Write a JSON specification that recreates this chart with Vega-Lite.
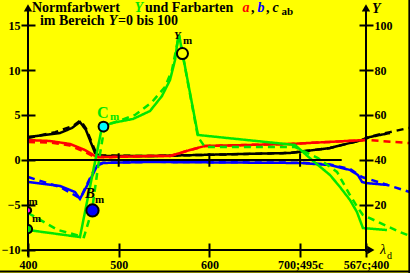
{
"$schema":"https://vega.github.io/schema/vega-lite/v6.json",
"width":382,"height":273,
"autosize":{"type":"none"},
"padding":{"left":28,"top":0,"right":0,"bottom":0},
"background":"#ffff00",
"view":{"stroke":null},
"config":{"axis":{"domain":false,"grid":false,"tickColor":"black","tickWidth":2,"labelFont":"Liberation Serif","labelFontWeight":"bold","labelFontSize":12,"labelColor":"black","title":null,"labelOverlap":false,"labelFlush":false,"labelBound":false}},
"resolve":{"axis":{"x":"independent","y":"independent"}},
"datasets":{
"cab":[
{"k":"s","x":400,"y":2.56},{"k":"s","x":418.7,"y":2.78},{"k":"s","x":435.3,"y":3.0},{"k":"s","x":448.5,"y":3.56},{"k":"s","x":457.3,"y":4.22},{"k":"s","x":463.9,"y":3.33},{"k":"s","x":473.9,"y":0.78},{"k":"s","x":479.4,"y":0.44},{"k":"s","x":534.5,"y":0.44},{"k":"s","x":589.6,"y":0.56},{"k":"s","x":688.9,"y":0.78},{"k":"s","x":733,"y":1.33},{"k":"s","x":755,"y":1.89},{"k":"s","x":768.3,"y":2.22},{"k":"s","x":777.1,"y":2.56},{"k":"s","x":799.1,"y":3.0},
{"k":"d","x":400,"y":2.44},{"k":"d","x":430,"y":3.1},{"k":"d","x":450,"y":3.8},{"k":"d","x":457.8,"y":4.4},{"k":"d","x":464,"y":3.5},{"k":"d","x":474.5,"y":0.9},{"k":"d","x":480,"y":0.5},{"k":"d","x":534.5,"y":0.44},{"k":"d","x":589.6,"y":0.56},{"k":"d","x":688.9,"y":0.78},{"k":"d","x":733,"y":1.33},{"k":"d","x":755,"y":1.89},{"k":"d","x":768.3,"y":2.22},{"k":"d","x":777.1,"y":2.6},{"k":"d","x":799.1,"y":3.1},{"k":"d","x":820,"y":3.56}
],
"a":[
{"k":"s","x":400,"y":2.22},{"k":"s","x":424.3,"y":2.11},{"k":"s","x":446.3,"y":1.78},{"k":"s","x":462.8,"y":1.11},{"k":"s","x":473.9,"y":0.44},{"k":"s","x":484.9,"y":0.33},{"k":"s","x":534.5,"y":0.44},{"k":"s","x":556.6,"y":0.44},{"k":"s","x":578.6,"y":1.11},{"k":"s","x":595.1,"y":1.56},{"k":"s","x":688.9,"y":1.78},{"k":"s","x":771.6,"y":2.22},
{"k":"d","x":400,"y":2.0},{"k":"d","x":424.3,"y":1.95},{"k":"d","x":446.3,"y":1.6},{"k":"d","x":462.8,"y":0.9},{"k":"d","x":473.9,"y":0.3},{"k":"d","x":484.9,"y":0.3},{"k":"d","x":534.5,"y":0.44},{"k":"d","x":556.6,"y":0.44},{"k":"d","x":578.6,"y":1.11},{"k":"d","x":595.1,"y":1.56},{"k":"d","x":688.9,"y":1.78},{"k":"d","x":773.7,"y":2.22},{"k":"d","x":820.1,"y":1.89}
],
"b":[
{"k":"s","x":400,"y":-2.44},{"k":"s","x":435.3,"y":-2.89},{"k":"s","x":451.8,"y":-3.56},{"k":"s","x":457.3,"y":-4.33},{"k":"s","x":468.4,"y":-2.22},{"k":"s","x":476.1,"y":-0.67},{"k":"s","x":482.7,"y":-0.33},{"k":"s","x":534.5,"y":-0.22},{"k":"s","x":699.9,"y":-0.33},{"k":"s","x":733,"y":-0.56},{"k":"s","x":755,"y":-1.11},{"k":"s","x":763.8,"y":-1.67},{"k":"s","x":768.3,"y":-2.44},{"k":"s","x":772.7,"y":-2.56},{"k":"s","x":796.9,"y":-2.78},
{"k":"d","x":400,"y":-1.89},{"k":"d","x":435.3,"y":-3.0},{"k":"d","x":455.1,"y":-4.11},{"k":"d","x":458,"y":-4.2},{"k":"d","x":468.4,"y":-2.0},{"k":"d","x":476.1,"y":-0.5},{"k":"d","x":482.7,"y":-0.3},{"k":"d","x":534.5,"y":-0.2},{"k":"d","x":699.9,"y":-0.3},{"k":"d","x":733,"y":-0.5},{"k":"d","x":755,"y":-1.0},{"k":"d","x":768.3,"y":-1.89},{"k":"d","x":821.2,"y":-3.56}
],
"Y":[
{"k":"s","x":400,"y":-7.78},{"k":"s","x":457.3,"y":-8.56},{"k":"s","x":481.6,"y":3.67},{"k":"s","x":492.6,"y":4.11},{"k":"s","x":515.8,"y":4.56},{"k":"s","x":534.5,"y":5.44},{"k":"s","x":547.7,"y":7.11},{"k":"s","x":556.6,"y":8.89},{"k":"s","x":562.1,"y":11.1},{"k":"s","x":565.4,"y":13.56},{"k":"s","x":566.5,"y":13.9},{"k":"s","x":587.4,"y":2.78},{"k":"s","x":694.4,"y":1.67},{"k":"s","x":713.1,"y":0},{"k":"s","x":733,"y":-1.67},{"k":"s","x":744,"y":-3.0},{"k":"s","x":755,"y":-4.44},{"k":"s","x":762.7,"y":-5.78},{"k":"s","x":769.3,"y":-7.56},{"k":"s","x":795.8,"y":-7.78},
{"k":"d","x":400,"y":-5.89},{"k":"d","x":433.1,"y":-7.78},{"k":"d","x":461.7,"y":-8.56},{"k":"d","x":470.6,"y":-5.56},{"k":"d","x":478.3,"y":0},{"k":"d","x":483.8,"y":3.33},{"k":"d","x":490.4,"y":4.0},{"k":"d","x":518.0,"y":5.0},{"k":"d","x":536.7,"y":6.44},{"k":"d","x":551.0,"y":8.11},{"k":"d","x":558.8,"y":10.0},{"k":"d","x":564.3,"y":12.78},{"k":"d","x":566.5,"y":13.9},{"k":"d","x":587.4,"y":2.56},{"k":"d","x":595.1,"y":1.44},{"k":"d","x":694.4,"y":1.44},{"k":"d","x":719.7,"y":0.22},{"k":"d","x":740.7,"y":-1.33},{"k":"d","x":755.0,"y":-3.89},{"k":"d","x":763.8,"y":-5.33},{"k":"d","x":769.3,"y":-6.11},{"k":"d","x":810.1,"y":-8.0},{"k":"d","x":821.2,"y":-8.44}
]
},
"layer":[
{"data":{"name":"cab"},"mark":{"type":"line","color":"black","strokeWidth":2.5},
 "encoding":{
  "x":{"field":"x","type":"quantitative","scale":{"domain":[400,821.2],"nice":false,"zero":false},"axis":{"orient":"bottom","offset":-23,"values":[400,500,600,700,772.66],"tickSize":7,"labelPadding":2,"labelExpr":"datum.value==700?'700;495c':(datum.value>770?'567c;400':datum.label)"}},
  "y":{"field":"y","type":"quantitative","scale":{"domain":[-12.556,17.778],"nice":false,"zero":false},"axis":{"orient":"left","values":[-10,-5,0,5,10,15],"tickSize":7,"labelPadding":1}},
  "strokeDash":{"field":"k","type":"nominal","scale":{"domain":["s","d"],"range":[[1,0],[7,5]]},"legend":null}}},
{"data":{"name":"a"},"mark":{"type":"line","color":"#ff0000","strokeWidth":2.5},
 "encoding":{
  "x":{"field":"x","type":"quantitative","scale":{"domain":[400,821.2],"nice":false,"zero":false},"axis":{"orient":"bottom","offset":-23,"values":[400,500,600,700,772.66],"tickSize":-7,"labels":false}},
  "y":{"field":"y","type":"quantitative","scale":{"domain":[-12.556,17.778],"nice":false,"zero":false},"axis":{"orient":"left","values":[-10,-5,0,5,10,15],"tickSize":-7,"labels":false}},
  "strokeDash":{"field":"k","type":"nominal","scale":{"domain":["s","d"],"range":[[1,0],[7,5]]},"legend":null}}},
{"data":{"name":"b"},"mark":{"type":"line","color":"#0000ff","strokeWidth":2.5},
 "encoding":{
  "x":{"field":"x","type":"quantitative","scale":{"domain":[400,821.2],"nice":false,"zero":false},"axis":null},
  "y":{"field":"y","type":"quantitative","scale":{"domain":[-12.556,17.778],"nice":false,"zero":false},"axis":{"orient":"right","offset":-44,"values":[-5,0,5,10,15],"tickSize":7,"labelPadding":1,"labelExpr":"format((datum.value+10)*4,'d')"}},
  "strokeDash":{"field":"k","type":"nominal","scale":{"domain":["s","d"],"range":[[1,0],[7,5]]},"legend":null}}},
{"data":{"name":"Y"},"mark":{"type":"line","color":"#00e600","strokeWidth":2.5},
 "encoding":{
  "x":{"field":"x","type":"quantitative","scale":{"domain":[400,821.2],"nice":false,"zero":false},"axis":null},
  "y":{"field":"y","type":"quantitative","scale":{"domain":[-12.556,17.778],"nice":false,"zero":false},"axis":{"orient":"right","offset":-44,"values":[-5,0,5,10,15],"tickSize":-7,"labels":false}},
  "strokeDash":{"field":"k","type":"nominal","scale":{"domain":["s","d"],"range":[[1,0],[7,5]]},"legend":null}}},
{"data":{"values":[{}]},"mark":{"type":"rule","color":"black","strokeWidth":2},
 "encoding":{"x":{"datum":400,"type":"quantitative","axis":null},"y":{"datum":-10.7,"type":"quantitative","axis":null},"y2":{"datum":16.6}}},
{"data":{"values":[{}]},"mark":{"type":"rule","color":"black","strokeWidth":2},
 "encoding":{"x":{"datum":772.66,"type":"quantitative","axis":null},"y":{"datum":-10.2,"type":"quantitative","axis":null},"y2":{"datum":16.6}}},
{"data":{"values":[{}]},"mark":{"type":"rule","color":"black","strokeWidth":2},
 "encoding":{"x":{"datum":400,"type":"quantitative","axis":null},"x2":{"datum":776},"y":{"datum":-10,"type":"quantitative","axis":null}}},
{"data":{"values":[{}]},"mark":{"type":"rule","color":"black","strokeWidth":2},
 "encoding":{"x":{"datum":400,"type":"quantitative","axis":null},"x2":{"datum":745.9},"y":{"datum":0,"type":"quantitative","axis":null}}},
{"data":{"values":[{"x":500},{"x":600},{"x":700}]},"mark":{"type":"rule","color":"black","strokeWidth":2},
 "encoding":{"x":{"field":"x","type":"quantitative","axis":null},"y":{"datum":0.75,"type":"quantitative","axis":null},"y2":{"datum":-0.75}}},
{"data":{"values":[{}]},"mark":{"type":"rule","color":"black","strokeWidth":2},
 "encoding":{"x":{"datum":820.5,"type":"quantitative","axis":null},"y":{"datum":-12.556,"type":"quantitative","axis":null},"y2":{"datum":17.778}}},
{"data":{"values":[{}]},"mark":{"type":"rule","color":"black","strokeWidth":2},
 "encoding":{"x":{"datum":369,"type":"quantitative","axis":null},"x2":{"datum":821.2},"y":{"datum":-12.4,"type":"quantitative","axis":null}}},
{"data":{"values":[{"x":400},{"x":772.66}]},"mark":{"type":"point","shape":"triangle-up","filled":true,"color":"black","size":70,"opacity":1},
 "encoding":{"x":{"field":"x","type":"quantitative","axis":null},"y":{"datum":16.9,"type":"quantitative","axis":null}}},
{"data":{"values":[{}]},"mark":{"type":"point","shape":"triangle-right","filled":true,"color":"black","size":70,"opacity":1},
 "encoding":{"x":{"datum":778,"type":"quantitative","axis":null},"y":{"datum":-10,"type":"quantitative","axis":null}}},
{"data":{"values":[{"n":"M","x":400,"y":-5.6},{"n":"G","x":400,"y":-7.67},{"n":"C","x":483.2,"y":3.72},{"n":"Ym","x":570.3,"y":11.83},{"n":"B","x":471.1,"y":-5.61}]},
 "mark":{"type":"point","filled":true,"stroke":"black","strokeWidth":2,"opacity":1,"clip":true},
 "encoding":{"x":{"field":"x","type":"quantitative","axis":null},"y":{"field":"y","type":"quantitative","axis":null},
  "fill":{"field":"n","type":"nominal","scale":{"domain":["M","G","C","Ym","B"],"range":["#ff00ff","#00e600","#00ffff","#ffff00","#0000ff"]},"legend":null},
  "size":{"field":"n","type":"nominal","scale":{"domain":["M","G","C","Ym","B"],"range":[40,150,135,180,170]},"legend":null}}},
{"data":{"values":[{"x":404.4,"y":16.4,"t":"Normfarbwert"},{"x":529.0,"y":16.4,"t":"und Farbarten"},{"x":645.9,"y":16.4,"t":","},{"x":662.4,"y":16.4,"t":","},{"x":413.2,"y":15.0,"t":"im Bereich"},{"x":499.2,"y":15.0,"t":"=0 bis 100"}]},
 "mark":{"type":"text","align":"left","baseline":"alphabetic","font":"Liberation Serif","fontWeight":"bold","fontSize":14,"color":"black"},
 "encoding":{"x":{"field":"x","type":"quantitative","axis":null},"y":{"field":"y","type":"quantitative","axis":null},"text":{"field":"t"}}},
{"data":{"values":[{"x":517.5,"y":16.4,"t":"Y"}]},
 "mark":{"type":"text","align":"left","baseline":"alphabetic","font":"Liberation Serif","fontWeight":"bold","fontStyle":"italic","fontSize":14,"color":"#00e600"},
 "encoding":{"x":{"field":"x","type":"quantitative","axis":null},"y":{"field":"y","type":"quantitative","axis":null},"text":{"field":"t"}}},
{"data":{"values":[{"x":636.5,"y":16.4,"t":"a"}]},
 "mark":{"type":"text","align":"left","baseline":"alphabetic","font":"Liberation Serif","fontWeight":"bold","fontStyle":"italic","fontSize":14,"color":"#ff0000"},
 "encoding":{"x":{"field":"x","type":"quantitative","axis":null},"y":{"field":"y","type":"quantitative","axis":null},"text":{"field":"t"}}},
{"data":{"values":[{"x":653,"y":16.4,"t":"b"}]},
 "mark":{"type":"text","align":"left","baseline":"alphabetic","font":"Liberation Serif","fontWeight":"bold","fontStyle":"italic","fontSize":14,"color":"#0000ff"},
 "encoding":{"x":{"field":"x","type":"quantitative","axis":null},"y":{"field":"y","type":"quantitative","axis":null},"text":{"field":"t"}}},
{"data":{"values":[{"x":669.5,"y":16.4,"t":"c"},{"x":489,"y":15.0,"t":"Y"},{"x":779.3,"y":16.3,"t":"Y"}]},
 "mark":{"type":"text","align":"left","baseline":"alphabetic","font":"Liberation Serif","fontWeight":"bold","fontStyle":"italic","fontSize":14,"color":"black"},
 "encoding":{"x":{"field":"x","type":"quantitative","axis":null},"y":{"field":"y","type":"quantitative","axis":null},"text":{"field":"t"}}},
{"data":{"values":[{"x":462.8,"y":-4.22,"t":"B"}]},
 "mark":{"type":"text","align":"left","baseline":"alphabetic","font":"Liberation Serif","fontWeight":"bold","fontStyle":"italic","fontSize":15,"color":"black"},
 "encoding":{"x":{"field":"x","type":"quantitative","axis":null},"y":{"field":"y","type":"quantitative","axis":null},"text":{"field":"t"}}},
{"data":{"values":[{"x":476.1,"y":4.67,"t":"C"}]},
 "mark":{"type":"text","align":"left","baseline":"alphabetic","font":"Liberation Serif","fontWeight":"bold","fontSize":16,"color":"#00e600"},
 "encoding":{"x":{"field":"x","type":"quantitative","axis":null},"y":{"field":"y","type":"quantitative","axis":null},"text":{"field":"t"}}},
{"data":{"values":[{"x":490.4,"y":4.44,"t":"m"}]},
 "mark":{"type":"text","align":"left","baseline":"alphabetic","font":"Liberation Serif","fontWeight":"bold","fontSize":11,"color":"#00e600"},
 "encoding":{"x":{"field":"x","type":"quantitative","axis":null},"y":{"field":"y","type":"quantitative","axis":null},"text":{"field":"t"}}},
{"data":{"values":[{"x":679.5,"y":16.1,"t":"ab"},{"x":570.9,"y":12.89,"t":"m"},{"x":473.9,"y":-4.78,"t":"m"},{"x":400.6,"y":-5.0,"t":"m"},{"x":404.4,"y":-6.89,"t":"m"}]},
 "mark":{"type":"text","align":"left","baseline":"alphabetic","font":"Liberation Serif","fontWeight":"bold","fontSize":11,"color":"black"},
 "encoding":{"x":{"field":"x","type":"quantitative","axis":null},"y":{"field":"y","type":"quantitative","axis":null},"text":{"field":"t"}}},
{"data":{"values":[{"x":561.0,"y":13.44,"t":"Y"}]},
 "mark":{"type":"text","align":"left","baseline":"alphabetic","font":"Liberation Serif","fontWeight":"bold","fontStyle":"italic","fontSize":11,"color":"black"},
 "encoding":{"x":{"field":"x","type":"quantitative","axis":null},"y":{"field":"y","type":"quantitative","axis":null},"text":{"field":"t"}}},
{"data":{"values":[{"x":788.1,"y":-10.44,"t":"λ"}]},
 "mark":{"type":"text","align":"left","baseline":"alphabetic","font":"Liberation Serif","fontStyle":"italic","fontSize":14,"color":"black"},
 "encoding":{"x":{"field":"x","type":"quantitative","axis":null},"y":{"field":"y","type":"quantitative","axis":null},"text":{"field":"t"}}},
{"data":{"values":[{"x":795.8,"y":-10.95,"t":"d"}]},
 "mark":{"type":"text","align":"left","baseline":"alphabetic","font":"Liberation Serif","fontSize":10,"color":"black"},
 "encoding":{"x":{"field":"x","type":"quantitative","axis":null},"y":{"field":"y","type":"quantitative","axis":null},"text":{"field":"t"}}}
]
}
